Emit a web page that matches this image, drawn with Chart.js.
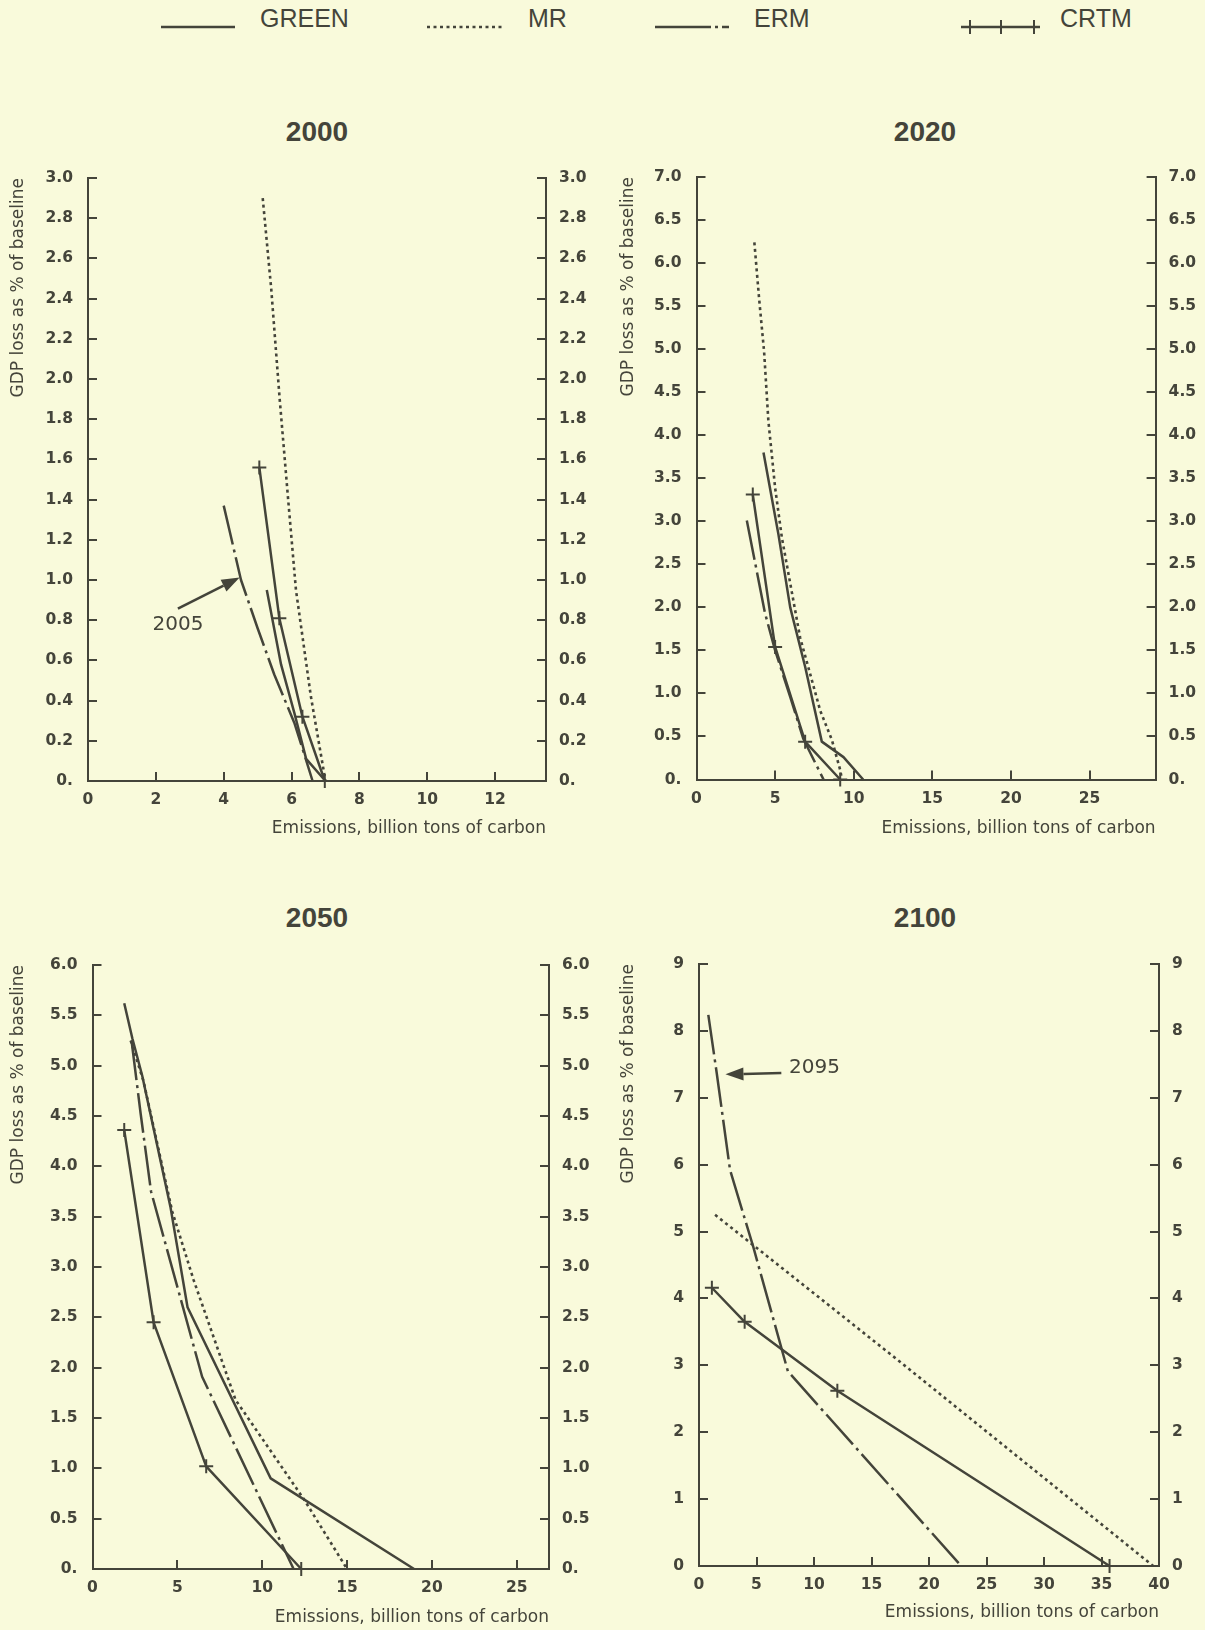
<!DOCTYPE html>
<html lang="en">
  <head>
    <meta charset="UTF-8" />
    <title>GDP loss against emissions, four models</title>
    <script src="https://cdn.jsdelivr.net/npm/chart.js"></script>
    <style>
      body {
        margin: 0;
        width: 1205px;
        height: 1630px;
        position: relative;
        overflow: hidden;
        background: #f9fadb;
        color: #44443a;
        font-family: "Liberation Sans", Arial, sans-serif;
      }
      canvas { position: absolute; }
      .year {
        position: absolute;
        font-size: 28px;
        font-weight: bold;
        transform: translate(-50%, -50%);
      }
      .key { position: absolute; top: 6px; font-size: 25px; line-height: 25px; }
      .swatch { position: absolute; top: 12px; }
    </style>
  </head>
  <body>
    <!-- legend -->
    <svg class="swatch" style="left:160px" width="80" height="30">
      <line x1="1" y1="15" x2="75" y2="15" stroke="#44443a" stroke-width="2.5" />
    </svg>
    <div class="key" style="left:260px">GREEN</div>
    <svg class="swatch" style="left:426px" width="80" height="30">
      <line x1="1" y1="15" x2="78" y2="15" stroke="#44443a" stroke-width="2.6" stroke-dasharray="3 3.5" />
    </svg>
    <div class="key" style="left:528px">MR</div>
    <svg class="swatch" style="left:654px" width="80" height="30">
      <line x1="1" y1="15" x2="75" y2="15" stroke="#44443a" stroke-width="2.5" stroke-dasharray="56 4 3 4" />
    </svg>
    <div class="key" style="left:754px">ERM</div>
    <svg class="swatch" style="left:960px" width="82" height="30">
      <line x1="1" y1="15" x2="80" y2="15" stroke="#44443a" stroke-width="2.5" />
      <line x1="10" y1="8" x2="10" y2="22" stroke="#44443a" stroke-width="2" />
      <line x1="41" y1="8" x2="41" y2="22" stroke="#44443a" stroke-width="2" />
      <line x1="74" y1="8" x2="74" y2="22" stroke="#44443a" stroke-width="2" />
    </svg>
    <div class="key" style="left:1060px">CRTM</div>

    <div class="year" style="left:317px; top:132px">2000</div>
    <div class="year" style="left:925px; top:132px">2020</div>
    <div class="year" style="left:317px; top:918px">2050</div>
    <div class="year" style="left:925px; top:918px">2100</div>

    <canvas id="c2000" width="600" height="720" style="left:0px; top:140px"></canvas>
    <canvas id="c2020" width="595" height="720" style="left:610px; top:140px"></canvas>
    <canvas id="c2050" width="600" height="702" style="left:0px; top:928px"></canvas>
    <canvas id="c2100" width="595" height="702" style="left:610px; top:928px"></canvas>

    <script>
      // values: [emissions, GDP loss]
      const green2000 = [[5.27, 0.95], [5.69, 0.58], [6.08, 0.34], [6.43, 0.11], [7.0, 0]];
      const mr2000 = [[5.15, 2.9], [5.4, 2.45], [5.65, 1.9], [5.9, 1.4], [6.13, 0.95], [6.57, 0.42], [7.0, 0]];
      const erm2000 = [[4.0, 1.37], [4.51, 1.0], [5.0, 0.76], [5.49, 0.53], [6.08, 0.29], [6.4, 0.12], [6.62, 0]];
      const crtm2000 = [[5.05, 1.56], [5.64, 0.81], [6.32, 0.32], [6.98, 0]];

      const green2020 = [[4.26, 3.8], [5.21, 2.85], [5.96, 2.0], [6.91, 1.31], [7.97, 0.44], [9.35, 0.26], [10.6, 0]];
      const mr2020 = [[3.68, 6.24], [3.98, 5.59], [4.3, 4.97], [4.57, 4.17], [5.0, 3.39], [5.43, 2.81], [6.59, 1.65], [7.87, 0.8], [8.61, 0.46], [9.14, 0.11], [9.25, 0]];
      const erm2020 = [[3.2, 3.01], [4.36, 1.93], [5.0, 1.5], [5.96, 0.96], [6.8, 0.47], [8.08, 0]];
      const crtm2020 = [[3.58, 3.31], [5.0, 1.54], [6.91, 0.44], [9.14, 0]];

      const green2050 = [[1.87, 5.62], [2.35, 5.27], [2.93, 4.9], [4.6, 3.59], [5.6, 2.6], [10.5, 0.9], [18.95, 0]];
      const mr2050 = [[2.25, 5.25], [3.0, 4.85], [4.7, 3.55], [5.96, 2.87], [8.43, 1.68], [12.47, 0.69], [15.0, 0]];
      const erm2050 = [[2.3, 5.25], [2.84, 4.52], [3.45, 3.75], [6.46, 1.91], [11.85, 0]];
      const crtm2050 = [[1.87, 4.36], [3.6, 2.45], [6.7, 1.02], [12.3, 0]];

      const mr2100 = [[1.4, 5.25], [17.5, 3.05], [39.5, 0]];
      const erm2100 = [[0.81, 8.24], [1.54, 7.37], [2.7, 5.92], [4.72, 4.77], [7.73, 2.91], [22.8, 0]];
      const crtm2100 = [[1.12, 4.16], [3.97, 3.65], [12.03, 2.62], [35.7, 0]];

      // axis ranges and tick steps
      const xMax = { 2000: 13.5, 2020: 29.2, 2050: 26.9, 2100: 40 };
      const xStep = { 2000: 2, 2020: 5, 2050: 5, 2100: 5 };
      const yMax = { 2000: 3, 2020: 7, 2050: 6, 2100: 9 };
      const yStep = { 2000: 0.2, 2020: 0.5, 2050: 0.5, 2100: 1 };

      // arrow notes: text, where the arrow starts and ends (data units)
      const notes2000 = [{ text: "2005", at: [2.65, 0.777], align: "center", tail: [2.65, 0.858], tip: [4.47, 1.012] }];
      const notes2100 = [{ text: "2095", at: [7.83, 7.45], align: "left", tail: [7.16, 7.37], tip: [2.3, 7.35] }];

      const INK = "#44443a";
      const WIDE = '"DejaVu Sans", Verdana, sans-serif';
      Chart.defaults.font.family = WIDE;
      Chart.defaults.color = INK;

      const arrowNotes = {
        id: "arrowNotes",
        afterDatasetsDraw(chart, args, opts) {
          const { ctx } = chart;
          const x = chart.scales.x, y = chart.scales.y;
          (opts.items || []).forEach((n) => {
            const x1 = x.getPixelForValue(n.tail[0]), y1 = y.getPixelForValue(n.tail[1]);
            const x2 = x.getPixelForValue(n.tip[0]), y2 = y.getPixelForValue(n.tip[1]);
            const a = Math.atan2(y2 - y1, x2 - x1);
            const hx = x2 - 18 * Math.cos(a), hy = y2 - 18 * Math.sin(a);
            ctx.save();
            ctx.strokeStyle = INK;
            ctx.fillStyle = INK;
            ctx.lineWidth = 2.6;
            ctx.beginPath();
            ctx.moveTo(x1, y1);
            ctx.lineTo(hx, hy);
            ctx.stroke();
            ctx.beginPath();
            ctx.moveTo(x2, y2);
            ctx.lineTo(hx + 6.5 * Math.sin(a), hy - 6.5 * Math.cos(a));
            ctx.lineTo(hx - 6.5 * Math.sin(a), hy + 6.5 * Math.cos(a));
            ctx.closePath();
            ctx.fill();
            ctx.font = "20px " + WIDE;
            ctx.textAlign = n.align;
            ctx.textBaseline = "middle";
            ctx.fillText(n.text, x.getPixelForValue(n.at[0]), y.getPixelForValue(n.at[1]));
            ctx.restore();
          });
        },
      };

      function pts(arr) {
        return arr.map((p) => ({ x: p[0], y: p[1] }));
      }

      function series(data, kind) {
        const ds = {
          label: kind,
          data: pts(data),
          borderColor: INK,
          borderWidth: 2.5,
          borderJoinStyle: "round",
          pointRadius: 0,
          tension: 0,
          fill: false,
          clip: false,
        };
        if (kind === "MR") { ds.borderDash = [3, 3.5]; ds.borderWidth = 2.6; }
        if (kind === "ERM") ds.borderDash = [40, 5, 3, 5];
        if (kind === "CRTM") {
          ds.pointStyle = "cross";
          ds.pointRadius = 7;
          ds.pointBorderWidth = 2;
          ds.pointBorderColor = INK;
        }
        return ds;
      }

      // box: canvas rect on the page, area: where the plot frame sits
      function drawPanel(id, year, datasets, notes, box, area, titleGap) {
        const leftW = area.left - box.left;
        const rightW = box.left + box.width - area.right;
        const bottomH = box.top + box.height - area.bottom;
        const wantTop = area.top - box.top;
        const yFmt = (v) => (yStep[year] < 1 ? (v === 0 ? "0." : v.toFixed(1)) : String(v));
        const axisLook = {
          grid: { drawOnChartArea: false, drawTicks: true, tickLength: -9, color: INK, lineWidth: 2 },
          border: { display: true, color: INK, width: 2 },
        };
        const tickFont = { family: WIDE, size: 15.5, weight: "bold" };
        const yTicks = { stepSize: yStep[year], callback: yFmt, font: tickFont, color: INK };

        const chart = new Chart(document.getElementById(id), {
          type: "line",
          data: { datasets: datasets },
          options: {
            responsive: false,
            animation: false,
            layout: { padding: { top: wantTop, left: 0, right: 0, bottom: 0 } },
            plugins: {
              legend: { display: false },
              tooltip: { enabled: false },
              arrowNotes: { items: notes },
            },
            scales: {
              x: {
                type: "linear",
                position: "bottom",
                min: 0,
                max: xMax[year],
                bounds: "data",
                ...axisLook,
                ticks: { stepSize: xStep[year], includeBounds: false, autoSkip: false, maxRotation: 0, padding: 19, font: tickFont, color: INK },
                title: {
                  display: true,
                  text: "Emissions, billion tons of carbon",
                  align: "end",
                  font: { family: WIDE, size: 17 },
                  padding: { top: 0, bottom: titleGap },
                },
                afterFit: (s) => { s.height = bottomH; },
              },
              y: {
                type: "linear",
                position: "left",
                min: 0,
                max: yMax[year],
                ...axisLook,
                ticks: { ...yTicks, padding: 24 },
                title: {
                  display: true,
                  text: "GDP loss as % of baseline",
                  align: "end",
                  font: { family: WIDE, size: 17 },
                  padding: { top: 8.8, bottom: 0 },
                },
                afterFit: (s) => { s.width = leftW; },
              },
              y2: {
                type: "linear",
                position: "right",
                display: true,
                min: 0,
                max: yMax[year],
                ...axisLook,
                ticks: { ...yTicks, padding: 22 },
                afterFit: (s) => { s.width = rightW; },
              },
            },
          },
          plugins: [arrowNotes],
        });

        // the y axis labels push the plot down a little; pull it back to the wanted top
        const dy = chart.chartArea.top - wantTop;
        if (Math.abs(dy) > 0.5) {
          chart.options.layout.padding.top = Math.max(wantTop - dy, 0);
          chart.update();
        }
      }

      drawPanel("c2000", 2000,
        [series(green2000, "GREEN"), series(mr2000, "MR"), series(erm2000, "ERM"), series(crtm2000, "CRTM")],
        notes2000,
        { left: 0, top: 140, width: 600, height: 720 },
        { left: 88, right: 546, top: 178, bottom: 781 }, 21);

      drawPanel("c2020", 2020,
        [series(green2020, "GREEN"), series(mr2020, "MR"), series(erm2020, "ERM"), series(crtm2020, "CRTM")],
        [],
        { left: 610, top: 140, width: 595, height: 720 },
        { left: 696.5, right: 1155.6, top: 177, bottom: 779.5 }, 21.3);

      drawPanel("c2050", 2050,
        [series(green2050, "GREEN"), series(mr2050, "MR"), series(erm2050, "ERM"), series(crtm2050, "CRTM")],
        [],
        { left: 0, top: 928, width: 600, height: 702 },
        { left: 92.5, right: 549, top: 965, bottom: 1569 }, 2);

      drawPanel("c2100", 2100,
        [series(mr2100, "MR"), series(erm2100, "ERM"), series(crtm2100, "CRTM")],
        notes2100,
        { left: 610, top: 928, width: 595, height: 702 },
        { left: 699, right: 1159, top: 964, bottom: 1566 }, 7);
    </script>
  </body>
</html>
